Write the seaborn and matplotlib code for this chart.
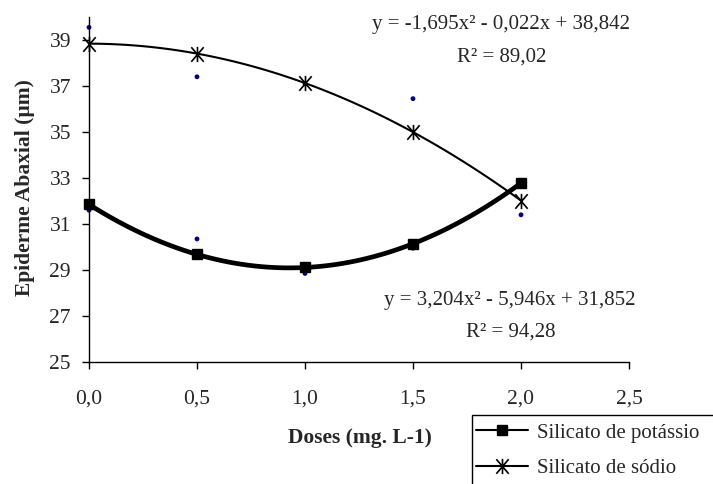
import numpy as np
import pandas as pd
import matplotlib
matplotlib.use("Agg")
import matplotlib.pyplot as plt
from matplotlib.path import Path
from matplotlib.lines import Line2D
from matplotlib.patches import Rectangle
import seaborn as sns

# ---- data ----
doses = [0.0, 0.5, 1.0, 1.5, 2.0]
potassio_fit = [31.85, 29.68, 29.11, 30.14, 32.78]
sodio_fit = [38.84, 38.41, 37.13, 34.99, 32.02]
potassio_obs = [31.6, 30.35, 28.85, 29.95, 32.9]
sodio_obs = [39.55, 37.4, 37.1, 36.45, 31.4]
xticks = [0.0, 0.5, 1.0, 1.5, 2.0, 2.5]
yticks = [25, 27, 29, 31, 33, 35, 37, 39]
eq_sodio = "y = -1,695x² - 0,022x + 38,842"
r2_sodio = "R² = 89,02"
eq_potassio = "y = 3,204x² - 5,946x + 31,852"
r2_potassio = "R² = 94,28"
labels = ["Silicato de potássio", "Silicato de sódio"]

sns.set_style("white")
plt.rcParams["font.family"] = ["Liberation Serif", "DejaVu Serif"]

df = pd.DataFrame({"dose": doses, "pot": potassio_fit, "sod": sodio_fit,
                   "pot_obs": potassio_obs, "sod_obs": sodio_obs})

fig = plt.figure(figsize=(7.13, 4.84), dpi=100)
ax = fig.add_axes([89/713, 1-362/484, (629-89)/713, (362-17)/484])

star = Path([(-0.85, -1), (0.85, 1), (-0.85, 1), (0.85, -1), (0, -1.05), (0, 1.05)],
            [Path.MOVETO, Path.LINETO, Path.MOVETO, Path.LINETO, Path.MOVETO, Path.LINETO])

# trend curves
sns.regplot(data=df, x="dose", y="pot", order=2, ci=None, scatter=False, ax=ax,
            line_kws=dict(color="black", lw=3.4))
sns.regplot(data=df, x="dose", y="sod", order=2, ci=None, scatter=False, ax=ax,
            line_kws=dict(color="black", lw=1.5))

# observed points
sns.scatterplot(data=df, x="dose", y="pot_obs", ax=ax, color="#000080", s=12,
                edgecolor="none", zorder=2, clip_on=False)
sns.scatterplot(data=df, x="dose", y="sod_obs", ax=ax, color="#000080", s=12,
                edgecolor="none", zorder=2, clip_on=False)

# markers
ax.plot(df["dose"], df["pot"], ls="none", marker="s", ms=7.5, color="black",
        zorder=3, clip_on=False)
ax.plot(df["dose"], df["sod"], ls="none", marker=star, ms=11, mew=1.2,
        mec="black", mfc="none", zorder=3, clip_on=False)

ax.set_xlim(0, 2.5)
ax.set_ylim(25, 40)
ax.set_xticks(xticks)
ax.set_xticklabels([f"{v:.1f}".replace(".", ",") for v in xticks])
ax.set_yticks(yticks)
ax.set_yticklabels([str(v) for v in yticks])
ax.set_xlabel("")
ax.set_ylabel("")
for s in ["top", "right"]:
    ax.spines[s].set_visible(False)
for s in ["left", "bottom"]:
    ax.spines[s].set_color("black")
    ax.spines[s].set_linewidth(1.0)
ax.tick_params(axis="both", direction="out", length=5, width=1, color="black",
               labelsize=15.5, left=True, bottom=True)
ax.tick_params(axis="x", pad=15)
ax.tick_params(axis="y", pad=8)
ax.set_facecolor("white")

fig.text(25/713, 1-188/484, "Epiderme Abaxial (µm)", rotation=90, ha="center",
         va="center", fontsize=15.5, fontweight="bold")
fig.text(360/713, 1-438/484, "Doses (mg. L-1)", ha="center", va="center",
         fontsize=15.5, fontweight="bold")

fig.text(501/713, 1-25/484, eq_sodio, ha="center", va="center", fontsize=15)
fig.text(502/713, 1-57/484, r2_sodio, ha="center", va="center", fontsize=15)
fig.text(510/713, 1-300/484, eq_potassio, ha="center", va="center", fontsize=15)
fig.text(511/713, 1-332/484, r2_potassio, ha="center", va="center", fontsize=15)

# legend box (extends past the figure edge as in the reference)
fig.patches.append(Rectangle((472/713, -0.05), 0.5, 1-415/484+0.05,
                             transform=fig.transFigure, facecolor="white",
                             edgecolor="black", lw=1.0, zorder=1))
handles = [Line2D([], [], color="black", lw=1.5, marker="s", ms=6.5),
           Line2D([], [], color="black", lw=1.5, marker=star, ms=11, mew=1.2, mfc="none")]
leg = fig.legend(handles, labels, loc="upper left", bbox_to_anchor=(476/713, 1-423/484),
                 frameon=False, fontsize=15, handlelength=2.5, handletextpad=0.45,
                 labelspacing=0.75, borderpad=0, borderaxespad=0)
leg.set_zorder(2)

fig.savefig("out.png", dpi=100, facecolor="white")
